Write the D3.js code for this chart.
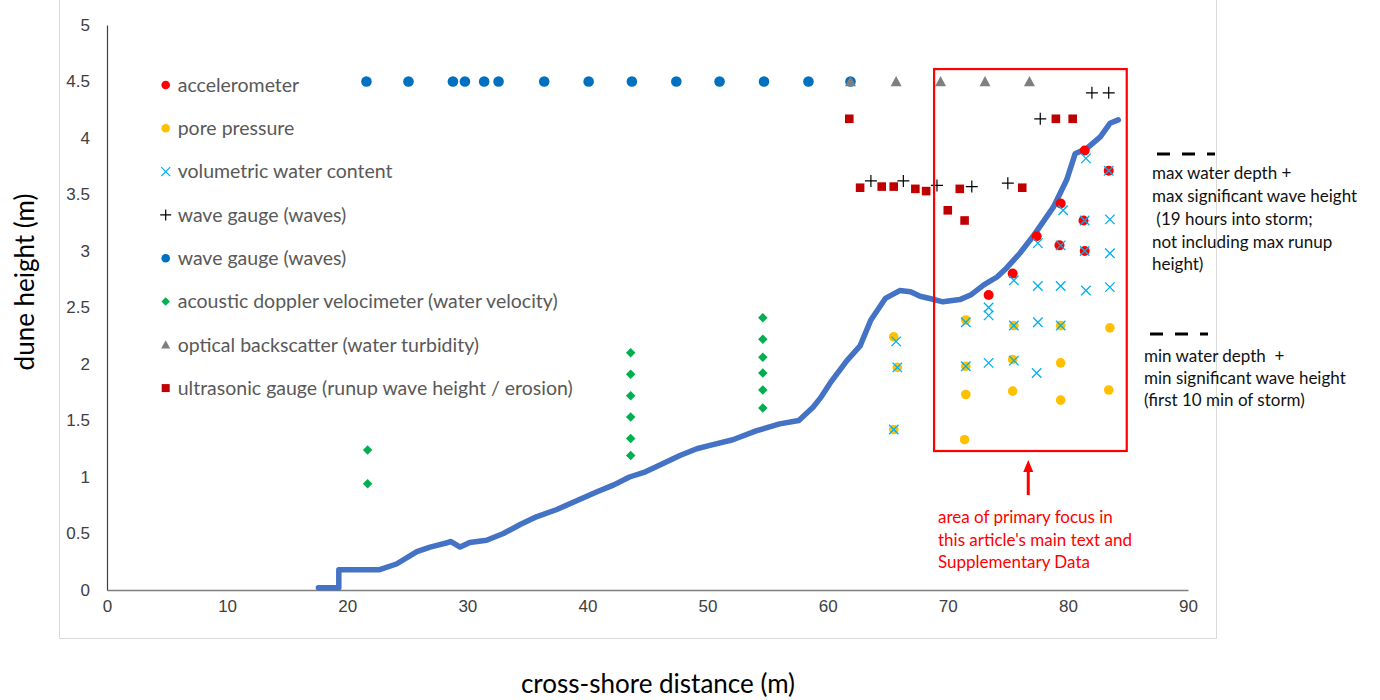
<!DOCTYPE html>
<html>
<head>
<meta charset="utf-8">
<script src="https://cdn.jsdelivr.net/npm/d3@7"></script>
<style>
  html, body { margin: 0; padding: 0; background: #ffffff; }
  svg { display: block; }
  text { font-family: Lato, "Liberation Sans", sans-serif; }
</style>
</head>
<body>
<svg id="chart" width="1380" height="700"></svg>
<script>
// ---------------- data ----------------
const xTicks = [0, 10, 20, 30, 40, 50, 60, 70, 80, 90];
const yTicks = [0, 0.5, 1, 1.5, 2, 2.5, 3, 3.5, 4, 4.5, 5];

// dune profile (blue line)
const profileX = [17.6, 19.3, 19.3, 22.7, 24.1, 25.8, 26.9, 28.4, 28.6, 29.4, 30.2, 31.6, 33.0, 34.4, 35.8, 37.4, 39.1, 40.8, 42.2, 43.5, 44.7, 46.3, 47.7, 49.1, 50.2, 52.1, 54.1, 56.0, 57.6, 58.8, 59.4, 60.2, 61.6, 62.7, 63.6, 64.8, 66.0, 66.9, 67.7, 68.5, 69.6, 71.0, 71.9, 73.0, 74.1, 74.9, 76.0, 77.1, 78.8, 79.9, 80.6, 81.6, 82.7, 83.5, 84.2];
const profileY = [0.02, 0.02, 0.18, 0.18, 0.23, 0.34, 0.38, 0.42, 0.43, 0.38, 0.42, 0.44, 0.50, 0.58, 0.65, 0.71, 0.79, 0.87, 0.93, 1.00, 1.04, 1.12, 1.19, 1.25, 1.28, 1.33, 1.41, 1.47, 1.50, 1.62, 1.70, 1.83, 2.03, 2.16, 2.39, 2.58, 2.65, 2.64, 2.60, 2.58, 2.55, 2.57, 2.61, 2.70, 2.77, 2.85, 2.98, 3.13, 3.39, 3.63, 3.86, 3.91, 4.01, 4.13, 4.16];

const accelX = [81.4, 83.4, 79.4, 81.3, 77.4, 79.3, 81.4, 75.4, 73.4];
const accelY = [3.89, 3.71, 3.42, 3.27, 3.13, 3.05, 3.00, 2.80, 2.61];

const poreX = [65.5, 65.8, 71.5, 75.5, 79.4, 83.5, 71.5, 75.4, 79.4, 71.5, 75.4, 79.4, 83.4, 65.5, 71.4];
const poreY = [2.24, 1.97, 2.39, 2.34, 2.34, 2.32, 1.98, 2.04, 2.01, 1.73, 1.76, 1.68, 1.77, 1.42, 1.33];

const vwcX = [81.5, 83.4, 79.6, 81.4, 83.5, 77.5, 79.4, 81.4, 83.5, 75.5, 77.5, 79.4, 81.5, 83.5, 73.4, 73.4, 71.5, 75.5, 77.5, 79.4, 65.7, 65.8, 71.5, 73.4, 75.5, 77.4, 65.5];
const vwcY = [3.82, 3.71, 3.36, 3.27, 3.28, 3.07, 3.05, 3.00, 2.98, 2.74, 2.69, 2.69, 2.65, 2.68, 2.50, 2.43, 2.37, 2.34, 2.37, 2.34, 2.20, 1.97, 1.98, 2.01, 2.03, 1.92, 1.42];

const wavePlusX = [82.0, 83.4, 77.7, 63.6, 66.3, 69.1, 72.0, 75.0];
const wavePlusY = [4.40, 4.40, 4.17, 3.62, 3.62, 3.58, 3.57, 3.60];

const waveDotX = [21.6, 25.1, 28.8, 29.8, 31.4, 32.6, 36.4, 40.1, 43.7, 47.4, 51.0, 54.7, 58.4, 61.9];
const waveDotY = [4.5, 4.5, 4.5, 4.5, 4.5, 4.5, 4.5, 4.5, 4.5, 4.5, 4.5, 4.5, 4.5, 4.5];

const advX = [21.7, 21.7, 43.6, 43.6, 43.6, 43.6, 43.6, 43.6, 54.6, 54.6, 54.6, 54.6, 54.6, 54.6];
const advY = [1.24, 0.94, 2.10, 1.91, 1.72, 1.53, 1.34, 1.19, 2.41, 2.22, 2.06, 1.92, 1.77, 1.61];

const obsX = [61.9, 65.7, 69.4, 73.1, 76.8];
const obsY = [4.5, 4.5, 4.5, 4.5, 4.5];

const ultraX = [61.8, 62.7, 64.5, 65.5, 67.3, 68.2, 70.0, 71.0, 71.4, 76.2, 79.0, 80.4];
const ultraY = [4.17, 3.56, 3.57, 3.57, 3.55, 3.53, 3.36, 3.55, 3.27, 3.56, 4.17, 4.17];

const legendLabels = [
  "accelerometer",
  "pore pressure",
  "volumetric water content",
  "wave gauge (waves)",
  "wave gauge (waves)",
  "acoustic doppler velocimeter (water velocity)",
  "optical backscatter (water turbidity)",
  "ultrasonic gauge (runup wave height / erosion)"
];

// annotation (data units)
const focusBox = [68.86, 84.9, 1.23, 4.61];   // x0, x1, y0, y1
const arrowX = 76.7, arrowY = [0.84, 1.15];
const focusText = ["area of primary focus in", "this article's main text and", "Supplementary Data"];
const maxText = ["max water depth +", "max significant wave height", " (19 hours into storm;", "not including max runup", "height)"];
const minText = ["min water depth  +", "min significant wave height", "(first 10 min of storm)"];

// ---------------- drawing ----------------
const svg = d3.select("#chart");
const x = d3.scaleLinear().domain([0, 90]).range([107, 1188]);
const y = d3.scaleLinear().domain([0, 5]).range([590, 25]);

// chart frame
svg.append("path")
  .attr("d", "M59.5,-1 V638.5 H1216.5 V-1")
  .attr("fill", "none").attr("stroke", "#d9d9d9").attr("stroke-width", 1);

// axes
const gx = svg.append("g").attr("transform", "translate(0,590)")
  .call(d3.axisBottom(x).tickValues(xTicks).tickSize(0).tickPadding(10).tickFormat(d3.format("d")));
gx.select(".domain").attr("stroke", "#7f7f7f").attr("stroke-width", 1.6);
gx.selectAll("text").attr("font-size", 17).attr("fill", "#404040")
  .style("font-family", "'Liberation Sans', sans-serif");

const gy = svg.append("g").attr("transform", "translate(107,0)")
  .call(d3.axisLeft(y).tickValues(yTicks).tickSize(0).tickPadding(17).tickFormat(d => String(d)));
gy.select(".domain").attr("stroke", "#404040").attr("stroke-width", 1.2);
gy.selectAll("text").attr("font-size", 17).attr("fill", "#404040")
  .style("font-family", "'Liberation Sans', sans-serif");

// axis titles
svg.append("text").attr("x", 658).attr("y", 693).attr("text-anchor", "middle")
  .attr("font-size", 26).attr("fill", "#000").text("cross-shore distance (m)");
svg.append("text").attr("transform", "translate(34,282) rotate(-90)").attr("text-anchor", "middle")
  .attr("font-size", 26).attr("fill", "#000").text("dune height (m)");

// profile line
const line = d3.line().x((d, i) => x(profileX[i])).y((d, i) => y(profileY[i]));
svg.append("path").datum(profileX).attr("d", line)
  .attr("fill", "none").attr("stroke", "#4472c4").attr("stroke-width", 5.5)
  .attr("stroke-linejoin", "round").attr("stroke-linecap", "round");

// marker shape helpers
function xMark(s) { const h = s / 2; return `M${-h},${-h}L${h},${h}M${-h},${h}L${h},${-h}`; }
function plusMark(s) { const h = s / 2; return `M${-h},0H${h}M0,${-h}V${h}`; }
function diamond(s) { const h = s / 2; return `M0,${-h}L${h},0L0,${h}L${-h},0Z`; }
function triangle(s) { const h = s / 2; return `M0,${-h}L${h},${h * 0.85}L${-h},${h * 0.85}Z`; }
function square(s) { const h = s / 2; return `M${-h},${-h}H${h}V${h}H${-h}Z`; }

const series = [
  { xs: accelX, ys: accelY, type: "circle", r: 5, fill: "#ff0000" },
  { xs: poreX, ys: poreY, type: "circle", r: 4.8, fill: "#ffc000" },
  { xs: vwcX, ys: vwcY, type: "path", d: xMark(9.5), stroke: "#00b0f0", sw: 1.3 },
  { xs: wavePlusX, ys: wavePlusY, type: "path", d: plusMark(12), stroke: "#000000", sw: 1.2 },
  { xs: waveDotX, ys: waveDotY, type: "circle", r: 5.3, fill: "#0070c0" },
  { xs: advX, ys: advY, type: "path", d: diamond(9.5), fill: "#00b050" },
  { xs: obsX, ys: obsY, type: "path", d: triangle(11), fill: "#7f7f7f" },
  { xs: ultraX, ys: ultraY, type: "path", d: square(8.6), fill: "#c00000" }
];

series.forEach(s => {
  const g = svg.append("g");
  const sel = g.selectAll("*").data(s.xs.map((v, i) => [v, s.ys[i]]));
  if (s.type === "circle") {
    sel.enter().append("circle").attr("cx", d => x(d[0])).attr("cy", d => y(d[1]))
      .attr("r", s.r).attr("fill", s.fill);
  } else {
    sel.enter().append("path").attr("d", s.d)
      .attr("transform", d => `translate(${x(d[0])},${y(d[1])})`)
      .attr("fill", s.fill || "none").attr("stroke", s.stroke || "none")
      .attr("stroke-width", s.sw || 0);
  }
});

// legend
const legend = svg.append("g");
legendLabels.forEach((lab, i) => {
  const cy = 85 + i * 43.3;
  const s = series[i];
  const mx = 165.7;
  if (s.type === "circle") {
    legend.append("circle").attr("cx", mx).attr("cy", cy).attr("r", 4.3).attr("fill", s.fill);
  } else {
    let d = s.d;
    if (i === 2) d = xMark(9);
    if (i === 3) d = plusMark(11);
    if (i === 5) d = diamond(8.5);
    if (i === 6) d = triangle(9);
    if (i === 7) d = square(8);
    legend.append("path").attr("d", d).attr("transform", `translate(${mx},${cy})`)
      .attr("fill", s.fill || "none").attr("stroke", s.stroke || "none").attr("stroke-width", s.sw || 0);
  }
  legend.append("text").attr("x", 177.7).attr("y", cy).attr("dy", "0.35em")
    .attr("font-size", 19.5).attr("fill", "#595959").text(lab);
});

// focus box
svg.append("rect")
  .attr("x", x(focusBox[0])).attr("y", y(focusBox[3]))
  .attr("width", x(focusBox[1]) - x(focusBox[0])).attr("height", y(focusBox[2]) - y(focusBox[3]))
  .attr("fill", "none").attr("stroke", "#ff0000").attr("stroke-width", 2.2);

// arrow
const ax = x(arrowX), aTip = y(arrowY[1]), aTail = y(arrowY[0]);
svg.append("line").attr("x1", ax).attr("x2", ax).attr("y1", aTail).attr("y2", aTip + 10)
  .attr("stroke", "#ff0000").attr("stroke-width", 3);
svg.append("path").attr("d", `M${ax},${aTip}L${ax + 5},${aTip + 12}L${ax - 5},${aTip + 12}Z`).attr("fill", "#ff0000");

focusText.forEach((t, i) => {
  svg.append("text").attr("x", 938).attr("y", 517 + i * 22.7).attr("dy", "0.35em")
    .attr("font-size", 17).attr("fill", "#ff0000").text(t);
});

// right-side annotations
svg.append("line").attr("x1", 1157).attr("x2", 1215).attr("y1", 154).attr("y2", 154)
  .attr("stroke", "#000").attr("stroke-width", 3).attr("stroke-dasharray", "13,12");
maxText.forEach((t, i) => {
  svg.append("text").attr("x", 1152).attr("y", 173.5 + i * 22.7).attr("dy", "0.35em")
    .attr("font-size", 17).attr("fill", "#111").style("white-space", "pre").text(t);
});
svg.append("line").attr("x1", 1150).attr("x2", 1208).attr("y1", 334).attr("y2", 334)
  .attr("stroke", "#000").attr("stroke-width", 3).attr("stroke-dasharray", "13,12");
minText.forEach((t, i) => {
  svg.append("text").attr("x", 1144).attr("y", 356 + i * 22).attr("dy", "0.35em")
    .attr("font-size", 17).attr("fill", "#111").style("white-space", "pre").text(t);
});
</script>
</body>
</html>
